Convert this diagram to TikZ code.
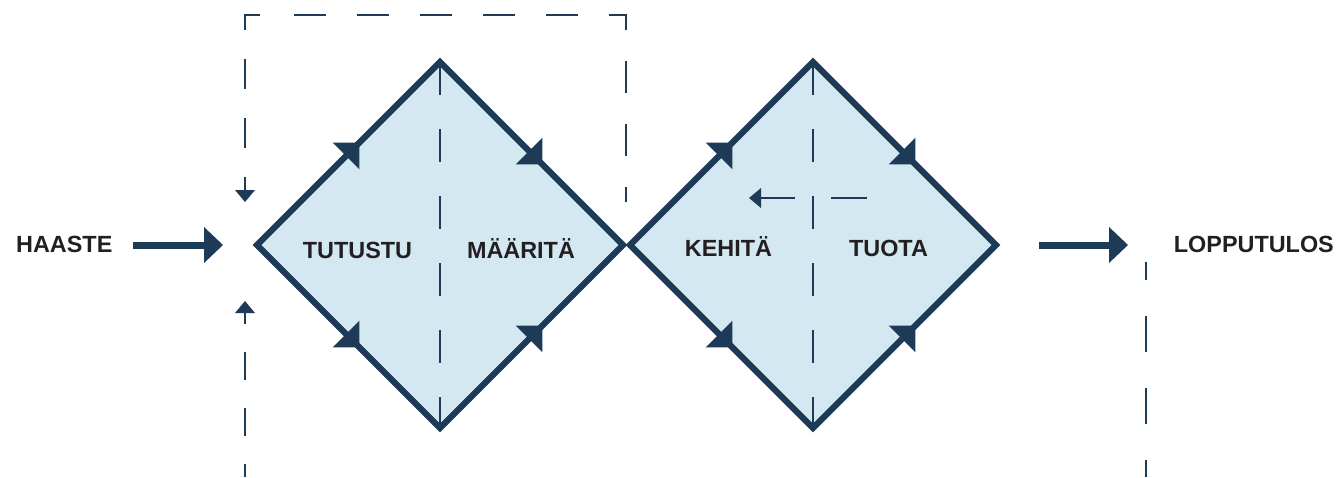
\documentclass[tikz,border=0pt]{standalone}
\usepackage{fontspec}
\setmainfont{Liberation Sans}
\usetikzlibrary{arrows.meta,decorations.markings}
\definecolor{navy}{RGB}{29,58,87}
\definecolor{lblue}{RGB}{211,232,241}
\definecolor{ink}{RGB}{35,31,32}
\begin{document}
\begin{tikzpicture}[x=1pt,y=-1pt,
  lbl/.style={font=\fontsize{23.4}{28}\selectfont\bfseries, text=ink, inner sep=0pt, anchor=base},
  dia/.style={draw=navy, fill=lblue, line width=6.2pt, line join=miter},
  edgearrow/.style={postaction={decorate}, decoration={markings, mark=at position 0.56 with {\fill[navy] (0pt,0pt) -- (-19pt,19pt) -- (-19pt,-19pt) -- cycle;}}},
  thinline/.style={draw=navy, line width=2.6pt},
  midline/.style={thinline, dash pattern=on 33pt off 34pt},
  bigarrow/.style={draw=navy, line width=7pt, -{Triangle[length=19pt,width=36pt,line width=0pt]}},
  smallarrow/.style={thinline, -{Triangle[length=12pt,width=20pt,line width=0pt]}}
]
\useasboundingbox (0,0) rectangle (1337,477);

% diamond corners
\coordinate (aL) at (257,245); \coordinate (aT) at (440,62);
\coordinate (aR) at (623,245); \coordinate (aB) at (440,428);
\coordinate (bL) at (630,245); \coordinate (bT) at (813,62);
\coordinate (bR) at (996,245); \coordinate (bB) at (813,428);

% diamonds
\path[dia] (aL) -- (aT) -- (aR) -- (aB) -- cycle;
\path[dia] (bL) -- (bT) -- (bR) -- (bB) -- cycle;

% centre dashed lines
\draw[midline] (aT) -- (aB);
\draw[midline] (bT) -- (bB);

% edge arrowheads
\path[edgearrow] (aL) -- (aT);
\path[edgearrow] (aT) -- (aR);
\path[edgearrow] (aL) -- (aB);
\path[edgearrow] (aB) -- (aR);
\path[edgearrow] (bL) -- (bT);
\path[edgearrow] (bT) -- (bR);
\path[edgearrow] (bL) -- (bB);
\path[edgearrow] (bB) -- (bR);

% labels
\node[lbl, anchor=base west] (haaste) at (16,252) {HAASTE};
\node[lbl] (tutustu) at (357.5,258) {TUTUSTU};
\node[lbl] (maarita) at (521,258) {MÄÄRITÄ};
\node[lbl] (kehita) at (728.5,256.5) {KEHITÄ};
\node[lbl] (tuota) at (888.5,256.5) {TUOTA};
\node[lbl, anchor=base east] (lopputulos) at (1334,252) {LOPPUTULOS};

% input / output arrows
\coordinate (in1) at (133,245); \coordinate (in2) at (223,245);
\coordinate (out1) at (1039,245); \coordinate (out2) at (1128,245);
\draw[bigarrow] (in1) -- (in2);
\draw[bigarrow] (out1) -- (out2);

% dashed loop at top left
\coordinate (lt1) at (245,148); \coordinate (lt2) at (245,15); \coordinate (lt3) at (261,15);
\draw[thinline, dash pattern=on 30pt off 29pt] (lt1) -- (lt2) -- (lt3);
\coordinate (rt1) at (626,202); \coordinate (rt2) at (626,15); \coordinate (rt3) at (294,15);
\draw[thinline, dash pattern=on 32pt off 31pt, dash phase=17pt] (rt1) -- (rt2) -- (rt3);
\coordinate (sa1) at (245,177); \coordinate (sa2) at (245,202);
\draw[smallarrow] (sa1) -- (sa2);

% dashed line at bottom left
\coordinate (sb1) at (245,324); \coordinate (sb2) at (245,301);
\draw[smallarrow] (sb1) -- (sb2);
\coordinate (lb1) at (245,352); \coordinate (lb2) at (245,477);
\draw[thinline, dash pattern=on 28pt off 28pt] (lb1) -- (lb2);

% dashed line at right
\coordinate (rr1) at (1146,262); \coordinate (rr2) at (1146,477);
\draw[thinline, dash pattern=on 36pt off 36pt, dash phase=18pt] (rr1) -- (rr2);

% small backward arrow inside second diamond
\coordinate (h1) at (867,198); \coordinate (h2) at (831,198);
\coordinate (h3) at (795,198); \coordinate (h4) at (749,198);
\draw[thinline] (h1) -- (h2);
\draw[smallarrow] (h3) -- (h4);
\end{tikzpicture}
\end{document}
